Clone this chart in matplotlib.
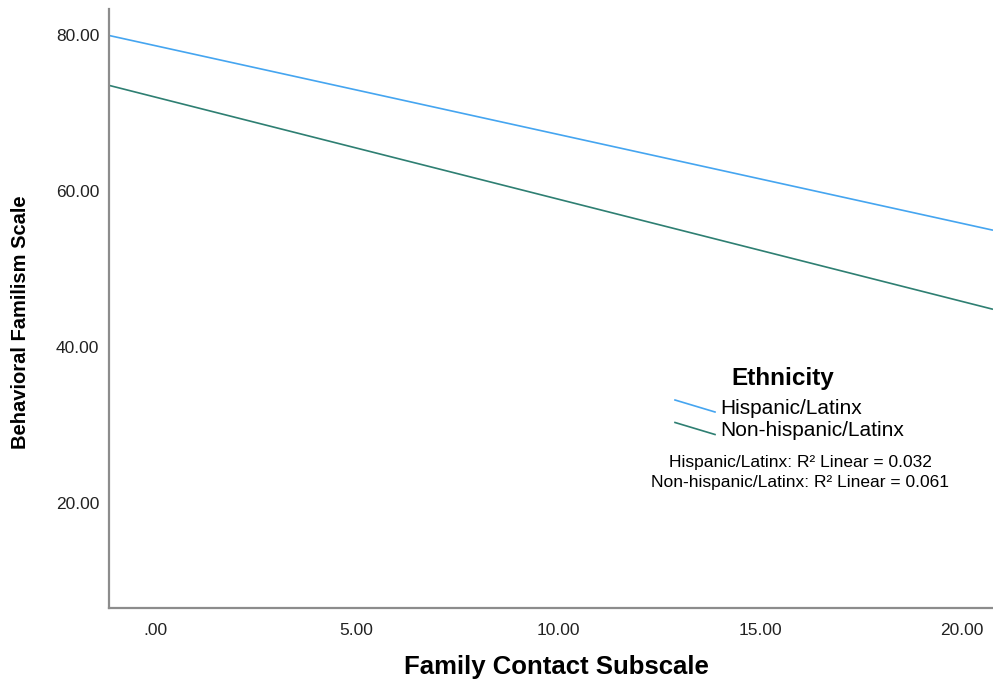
import numpy as np
import matplotlib
matplotlib.use("Agg")
from matplotlib import pyplot as plt
from matplotlib.lines import Line2D

plt.rcParams['font.family'] = ['Liberation Sans', 'DejaVu Sans']

# fit lines: Behavioral Familism ~ Family Contact, one per ethnicity group
groups = ["Hispanic/Latinx", "Non-hispanic/Latinx"]
intercepts = [78.7, 72.1]
slopes = [-1.141, -1.312]
r2_linear = [0.032, 0.061]
colors = ["#45a5f0", "#2e7f72"]

x_ticks = [0, 5, 10, 15, 20]
x_ticklabels = [".00", "5.00", "10.00", "15.00", "20.00"]
y_ticks = [20, 40, 60, 80]
y_ticklabels = ["20.00", "40.00", "60.00", "80.00"]
x_range = (-1.14, 20.77)
y_range = (6.5, 83.4)

fig = plt.figure(figsize=(9.93, 6.81), dpi=100)
ax = fig.add_axes([109 / 993, 73 / 681, 1 - 109 / 993, 599 / 681])

xs = np.array(x_range)
for b0, b1, c in zip(intercepts, slopes, colors):
    ax.plot(xs, b0 + b1 * xs, color=c, lw=1.2, solid_capstyle='butt')

ax.set_xlim(*x_range)
ax.set_ylim(*y_range)
ax.set_xticks(x_ticks)
ax.set_xticklabels(x_ticklabels)
ax.set_yticks(y_ticks)
ax.set_yticklabels(y_ticklabels)
ax.tick_params(length=0, labelsize=12.5, labelcolor='#222222')
ax.tick_params(axis='x', pad=11)
ax.tick_params(axis='y', pad=7)

for side in ('top', 'right'):
    ax.spines[side].set_visible(False)
for side in ('left', 'bottom'):
    ax.spines[side].set_color('#8c8c8c')
    ax.spines[side].set_linewidth(1.6)


def fx(px):
    return px / 993


def fy(py):
    return 1 - py / 681


fig.text(fx(556), fy(667), "Family Contact Subscale", ha='center', va='center',
         fontsize=18.5, fontweight='bold')
fig.text(fx(21), fy(322), "Behavioral Familism Scale", rotation=90,
         ha='center', va='center', fontsize=14.5, fontweight='bold')

# legend block with slanted line samples
fig.text(fx(783), fy(378), "Ethnicity", ha='center', va='center',
         fontsize=17.5, fontweight='bold')
for i, (g, c) in enumerate(zip(groups, colors)):
    y0 = 400 + i * 22.5
    fig.add_artist(Line2D([fx(675), fx(715)], [fy(y0), fy(y0 + 12)],
                          transform=fig.transFigure, color=c, lw=1.2))
    fig.text(fx(720), fy(y0 + 8), g, ha='left', va='center', fontsize=15)

for i, (g, r2) in enumerate(zip(groups, r2_linear)):
    fig.text(fx(800), fy(463 + i * 19.5), f"{g}: R² Linear = {r2:.3f}",
             ha='center', va='center', fontsize=12.5)

fig.savefig("out.png", dpi=100)
